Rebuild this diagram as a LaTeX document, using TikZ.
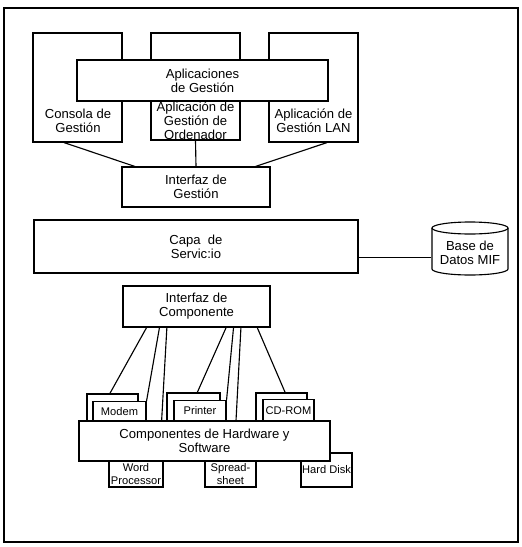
\documentclass[tikz,border=0pt]{standalone}
\usepackage{fontspec}
\setmainfont{Liberation Sans}
\usetikzlibrary{calc}

\def\unitpx{0.025cm}
\newcommand\bigtxt{\fontsize{9.3}{10}\selectfont}
\newcommand\smalltxt{\fontsize{7.9}{8.6}\selectfont}

\begin{document}
\begin{tikzpicture}[x=\unitpx, y=-\unitpx, line width=0.8pt,
  box/.style={draw, fill=white, inner sep=0pt, align=center, font=\bigtxt},
  smallbox/.style={box, font=\smalltxt},
  txt/.style={inner sep=0pt, align=center, font=\bigtxt},
  sz/.style 2 args={minimum width=#1*\unitpx, minimum height=#2*\unitpx}]

\useasboundingbox (0,0) rectangle (521,547);
\draw[line width=1pt] (4,8) rectangle (518,542);

% gestion
\node[box, sz={89}{109}] (cons) at (77.5,87.5) {};
\node[box, sz={89}{107}] (ord) at (195.5,86.5) {};
\node[box, sz={89}{109}] (lan) at (313.5,87.5) {};
\node[box, sz={251}{41}] (apg) at (202.5,80.5) {Aplicaciones\\de Gesti\'on};

\node[txt] (tcons) at (78,121) {Consola de\\Gesti\'on};
\node[txt] (tord) at (195.5,121) {Aplicaci\'on de\\Gesti\'on de\\Ordenador};
\node[txt] (tlan) at (313.5,121) {Aplicaci\'on de\\Gesti\'on LAN};

\node[box, sz={148}{40}] (ifg) at (196,187) {Interfaz de\\Gesti\'on};

\draw ($(cons.south west)!0.35!(cons.south east)$) -- ($(ifg.north west)!0.09!(ifg.north east)$);
\draw (ord.south) -- (ifg.north);
\draw ($(lan.south west)!0.65!(lan.south east)$) -- ($(ifg.north west)!0.9!(ifg.north east)$);

% servicio
\node[box, sz={324}{53}] (cap) at (196,246.5) {Capa~~de\\Servic:io};

\draw[fill=white] (432,228) -- (432,269) arc[start angle=180, end angle=0, x radius=38, y radius=6] -- (508,228);
\draw (470,228) ellipse[x radius=38, y radius=6];
\node[txt, sz={76}{42}] (db) at (470,253) {Base de\\Datos MIF};

\coordinate (capdb) at ($(cap.north east)!0.7!(cap.south east)$);
\draw (capdb) -- (capdb -| db.west);

% componentes
\node[box, sz={147}{41}] (icp) at (196.5,306.5) {Interfaz de\\Componente};

\node[smallbox, sz={51}{27}] (back1) at (112.5,407.5) {};
\node[smallbox, sz={53}{20}] (modem) at (119.5,411.5) {Modem};
\node[smallbox, sz={53}{28}] (back2) at (193.5,407) {};
\node[smallbox, sz={52}{21}] (printer) at (200,411) {Printer};
\node[smallbox, sz={51}{28}] (back3) at (281.5,407) {};
\node[smallbox, sz={51}{22}] (cdrom) at (288.5,410.5) {CD-ROM};

\node[smallbox, sz={54}{26}] (word) at (136,474) {Word\\Processor};
\node[smallbox, sz={51}{26}] (sheet) at (230.5,474) {Spread-\\sheet};
\node[smallbox, sz={51}{34}] (hdd) at (326.5,470) {Hard Disk};

\draw ($(icp.south west)!0.163!(icp.south east)$) -- ($(back1.north west)!0.45!(back1.north east)$);
\draw ($(icp.south west)!0.25!(icp.south east)$) -- (modem.north east);
\draw ($(icp.south west)!0.70!(icp.south east)$) -- ($(back2.north west)!0.57!(back2.north east)$);
\draw ($(icp.south west)!0.75!(icp.south east)$) -- (printer.north east);
\draw ($(icp.south west)!0.91!(icp.south east)$) -- ($(back3.north west)!0.57!(back3.north east)$);

\node[box, sz={251}{40}] (hw) at (204.5,441) {Componentes de Hardware y\\Software};

\draw ($(icp.south west)!0.30!(icp.south east)$) -- ($(hw.north west)!0.33!(hw.north east)$);
\draw ($(icp.south west)!0.80!(icp.south east)$) -- ($(hw.north west)!0.625!(hw.north east)$);

\end{tikzpicture}
\end{document}
